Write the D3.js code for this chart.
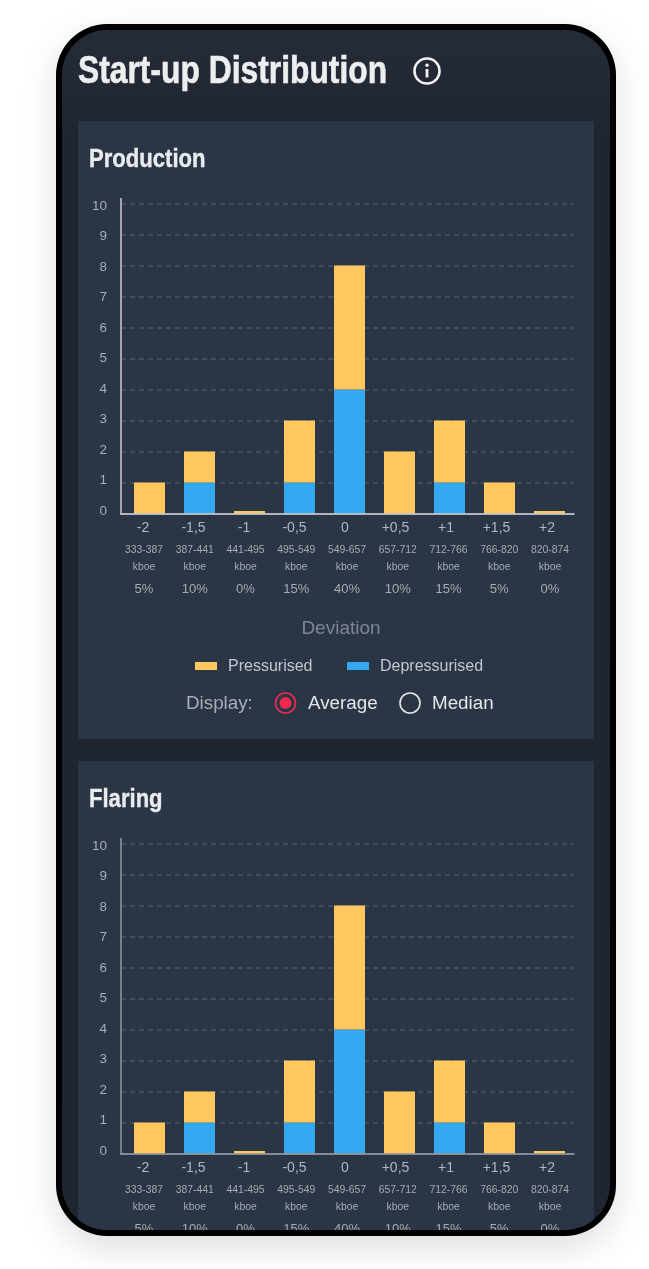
<!DOCTYPE html>
<html><head><meta charset="utf-8">
<script src="https://cdnjs.cloudflare.com/ajax/libs/d3/7.8.5/d3.min.js"></script>
<style>html,body{margin:0;padding:0;background:#fff;overflow:hidden}svg{display:block}text{font-family:"Liberation Sans",Arial,sans-serif}</style>
</head><body><svg id="c" width="649" height="1269"></svg>
<script>
const title = "Start-up Distribution";
const panelTitles = ["Production", "Flaring"];
const deviations = ["-2","-1,5","-1","-0,5","0","+0,5","+1","+1,5","+2"];
const ranges = ["333-387","387-441","441-495","495-549","549-657","657-712","712-766","766-820","820-874"];
const shares = ["5%","10%","0%","15%","40%","10%","15%","5%","0%"];
const depressurised = [0,1,0,1,4,0,1,0,0];
const pressurised = [1,1,0,2,4,2,2,1,0];
const yTicks = [0,1,2,3,4,5,6,7,8,9,10];

const svg = d3.select("#c");
const defs = svg.append("defs");
const sh = defs.append("filter").attr("id","sh").attr("x","-20%").attr("y","-20%").attr("width","140%").attr("height","140%");
sh.append("feDropShadow").attr("dx",0).attr("dy",12).attr("stdDeviation",17).attr("flood-color","#000").attr("flood-opacity",0.13);
const soft = defs.append("filter").attr("id","soft").attr("x","-5%").attr("y","-5%").attr("width","110%").attr("height","110%");
soft.append("feGaussianBlur").attr("stdDeviation",0.45);
defs.append("clipPath").attr("id","scr").append("rect").attr("x",62).attr("y",30).attr("width",548).attr("height",1200).attr("rx",45);
const g0 = defs.append("linearGradient").attr("id","bg").attr("x1",0).attr("x2",0).attr("y1",0).attr("y2",1);
g0.append("stop").attr("offset","0").attr("stop-color","#252c38");
g0.append("stop").attr("offset","0.1").attr("stop-color","#1e2430");
g0.append("stop").attr("offset","1").attr("stop-color","#1f2632");

svg.append("rect").attr("x",56).attr("y",24).attr("width",560).attr("height",1212).attr("rx",51).attr("fill","#000").attr("filter","url(#sh)");
const screen = svg.append("g").attr("clip-path","url(#scr)");
screen.append("rect").attr("x",62).attr("y",30).attr("width",548).attr("height",1200).attr("fill","url(#bg)");
const ui = screen.append("g").attr("filter","url(#soft)");

ui.append("text").attr("transform","translate(78,83) scale(0.837,1)").text(title)
  .attr("font-weight",700).attr("font-size",38).attr("fill","#eceef0").attr("stroke","#eceef0").attr("stroke-width",0.6);
const info = ui.append("g").attr("transform","translate(427,71)");
info.append("circle").attr("r",12.5).attr("fill","none").attr("stroke","#f1f2f3").attr("stroke-width",2.6);
info.append("rect").attr("x",-1.4).attr("y",-2).attr("width",2.8).attr("height",8.5).attr("fill","#f1f2f3");
info.append("circle").attr("cy",-5.8).attr("r",1.7).attr("fill","#f1f2f3");

const x = d3.scaleBand().domain(deviations).range([124.5,574.5]).paddingInner(0.38).paddingOuter(0.19);
const xDev = d3.scalePoint().domain(deviations).range([143,547]);
const xInfo = d3.scalePoint().domain(deviations).range([144,550]);
const rows = deviations.map((d,i)=>({d, range:ranges[i], share:shares[i], dep:depressurised[i], pre:pressurised[i]}));
const minStub = 2.5;

function panel(name, top, axisColor){
  const card = ui.append("g").attr("transform",`translate(0,${top})`);
  card.append("rect").attr("x",78).attr("y",0).attr("width",516).attr("height",618).attr("fill","#2b3444");
  card.append("text").attr("transform","translate(89,46) scale(0.85,1)").text(name)
    .attr("font-weight",700).attr("font-size",26).attr("fill","#e9ebee").attr("stroke","#e9ebee").attr("stroke-width",0.4);
  const y = d3.scaleLinear().domain([0,10]).range([392.5,82.5]);
  const yLab = d3.scaleLinear().domain([0,10]).range([389,84]);

  const grid = card.append("g").attr("transform","translate(121,0)")
    .call(d3.axisRight(y).tickValues(yTicks.slice(1)).tickSize(453).tickFormat(""));
  grid.select(".domain").remove();
  grid.selectAll("line").attr("stroke","#5b6573").attr("stroke-width",1).attr("stroke-dasharray","5 4");

  const lab = card.append("g").attr("transform","translate(107,0)")
    .call(d3.axisLeft(yLab).tickValues(yTicks).tickSize(0).tickPadding(0).tickFormat(d3.format("d")));
  lab.select(".domain").remove();
  lab.selectAll("text").attr("font-size",13.5).attr("fill","#a9aeb6").style("font-family",'"Liberation Sans",Arial,sans-serif');

  const stack = d3.stack().keys(["dep","pre"])(rows);
  const colors = {dep:"#30a9f0", pre:"#ffc85f"};
  stack.forEach(s=>{
    const isStub = d => s.key==="pre" && d.data.dep+d.data.pre===0;
    card.append("g").selectAll("rect").data(s).join("rect")
      .attr("x",d=>x(d.data.d)).attr("width",x.bandwidth())
      .attr("y",d=>isStub(d) ? y(0)-minStub : y(d[1]))
      .attr("height",d=>isStub(d) ? minStub : y(d[0])-y(d[1]))
      .attr("fill",colors[s.key]);
  });

  card.append("line").attr("x1",121).attr("x2",121).attr("y1",77).attr("y2",393.5).attr("stroke",axisColor).attr("stroke-width",1.3);
  card.append("line").attr("x1",120.5).attr("x2",574.5).attr("y1",393).attr("y2",393).attr("stroke",axisColor).attr("stroke-width",1.5);

  const lines = [
    {f:d=>d.d, sx:xDev, y:411, s:14, c:"#b3b7bd"},
    {f:d=>d.range, sx:xInfo, y:432, s:10.4, c:"#a7abb2"},
    {f:()=>"kboe", sx:xInfo, y:449, s:10.4, c:"#a7abb2"},
    {f:d=>d.share, sx:xInfo, y:472, s:13, c:"#a7abb2"}
  ];
  lines.forEach(l=>{
    card.append("g").selectAll("text").data(rows).join("text")
      .attr("x",d=>l.sx(d.d)).attr("y",l.y).attr("text-anchor","middle")
      .attr("font-size",l.s).attr("fill",l.c).text(l.f);
  });

  card.append("text").attr("x",341).attr("y",513).attr("text-anchor","middle").attr("font-size",19).attr("fill","#7f8793").text("Deviation");
  const legend = [["Pressurised",195,228,colors.pre],["Depressurised",347,380,colors.dep]];
  legend.forEach(l=>{
    card.append("rect").attr("x",l[1]).attr("y",541).attr("width",22).attr("height",8).attr("fill",l[3]);
    card.append("text").attr("x",l[2]).attr("y",550).attr("font-size",16).attr("fill","#c4c7cc").text(l[0]);
  });
  card.append("text").attr("x",186).attr("y",588).attr("font-size",18.8).attr("fill","#a9aeb6").text("Display:");
  card.append("circle").attr("cx",285.5).attr("cy",582).attr("r",10).attr("fill","none").attr("stroke","#ef2a51").attr("stroke-width",1.6);
  card.append("circle").attr("cx",285.5).attr("cy",582).attr("r",6).attr("fill","#ef2a51");
  card.append("text").attr("x",308).attr("y",588).attr("font-size",18.8).attr("fill","#e4e6e9").text("Average");
  card.append("circle").attr("cx",410).attr("cy",582).attr("r",10).attr("fill","none").attr("stroke","#e4e6e9").attr("stroke-width",1.6);
  card.append("text").attr("x",432).attr("y",588).attr("font-size",18.8).attr("fill","#e4e6e9").text("Median");
}
panel(panelTitles[0], 121, "#e0e1e3");
panel(panelTitles[1], 761, "#a4a8ae");
</script></body></html>
